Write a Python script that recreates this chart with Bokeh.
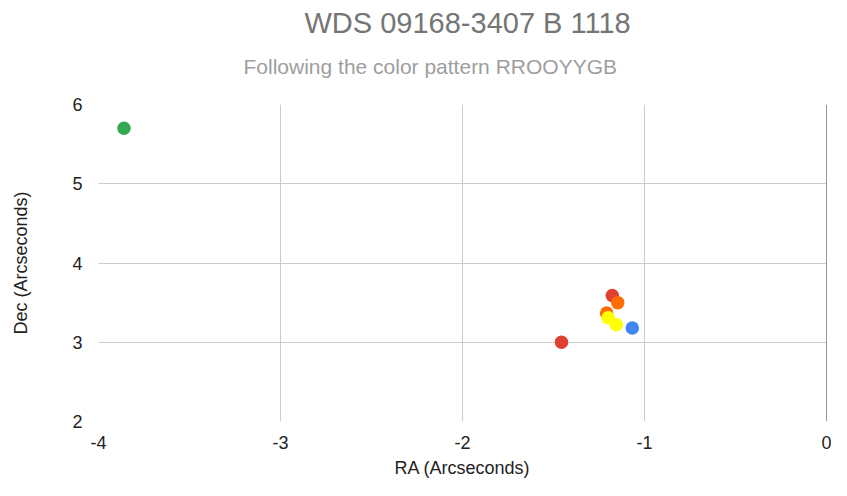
from bokeh.plotting import figure
from bokeh.models import ColumnDataSource, Title, Span, FixedTicker, Range1d
from bokeh.embed import file_html
from bokeh.resources import INLINE

# Data (arcseconds), order follows colour pattern RROOYYGB
ra = [-1.456, -1.177, -1.147, -1.208, -1.200, -1.155, -3.86, -1.067]
dec = [3.00, 3.59, 3.50, 3.37, 3.31, 3.22, 5.70, 3.18]
colors = ["#e0412f", "#e0412f", "#ff6d01", "#ff6d01", "#ffff00", "#ffff00", "#34a853", "#4285f4"]

x_ticks = [-4, -3, -2, -1, 0]
y_ticks = [2, 3, 4, 5, 6]
x_tick_labels = ["-4", "-3", "-2", "-1", "0"]

title_text = "WDS 09168-3407 B 1118"
subtitle_text = "Following the color pattern RROOYYGB"
x_label = "RA (Arcseconds)"
y_label = "Dec (Arcseconds)"

FONT = "Liberation Sans"

src = ColumnDataSource(dict(x=ra, y=dec, c=colors))

p = figure(width=831, height=480, output_backend="svg", toolbar_location=None,
           x_range=Range1d(-4, 0), y_range=Range1d(2, 6),
           min_border_left=98, min_border_right=5, min_border_bottom=59, min_border_top=104)
p.title = None
p.outline_line_color = None
p.background_fill_color = "white"
p.border_fill_color = "white"

spacer = Title(text=" ", align="left", text_font_size="2px", text_font=FONT, standoff=14)
p.add_layout(spacer, "above")
sub = Title(text=subtitle_text, align="left", offset=145, text_font_size="21px",
            text_color="#9e9e9e", text_font_style="normal", text_font=FONT, standoff=18)
p.add_layout(sub, "above")
ttl = Title(text=title_text, align="left", offset=206, text_font_size="29px",
            text_color="#757575", text_font_style="normal", text_font=FONT, standoff=9)
p.add_layout(ttl, "above")

for ax in (p.xaxis[0], p.yaxis[0]):
    ax.axis_line_color = None
    ax.major_tick_line_color = None
    ax.minor_tick_line_color = None
    ax.major_label_text_font = FONT
    ax.major_label_text_font_size = "18px"
    ax.major_label_text_color = "#222222"
    ax.axis_label_text_font = FONT
    ax.axis_label_text_font_size = "18px"
    ax.axis_label_text_font_style = "normal"
    ax.axis_label_text_color = "#222222"

p.xaxis[0].ticker = FixedTicker(ticks=x_ticks)
p.xaxis[0].major_label_overrides = {float(t): s for t, s in zip(x_ticks, x_tick_labels)}
p.yaxis[0].ticker = FixedTicker(ticks=y_ticks)
p.xaxis[0].axis_label = x_label
p.yaxis[0].axis_label = y_label
p.xaxis[0].major_label_standoff = 8
p.xaxis[0].axis_label_standoff = 6
p.yaxis[0].major_label_standoff = 10
p.yaxis[0].axis_label_standoff = 38

p.xgrid.ticker = FixedTicker(ticks=x_ticks)
p.ygrid.ticker = FixedTicker(ticks=y_ticks)
p.xgrid.grid_line_color = "#cccccc"
p.ygrid.grid_line_color = "#cccccc"

p.add_layout(Span(location=0, dimension="height", line_color="#333333", line_width=1))

p.scatter("x", "y", source=src, size=13.5, fill_color="c", line_color="c", line_width=0)

open("out.html", "w").write(file_html(p, INLINE))
